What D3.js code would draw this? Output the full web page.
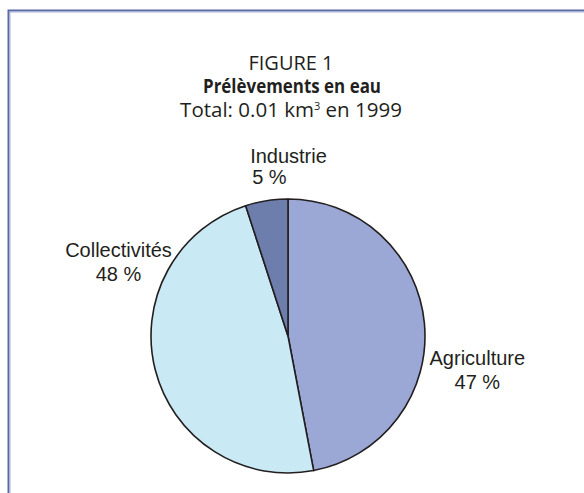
<!DOCTYPE html>
<html>
<head>
<meta charset="utf-8">
<script src="https://cdn.jsdelivr.net/npm/d3@7"></script>
<style>
  body { margin: 0; background: #fff; }
  svg { display: block; }
</style>
</head>
<body>
<div id="chart"></div>
<script>
// data
const categories = ['Agriculture', 'Collectivités', 'Industrie']
const shares = [47, 48, 5]
const titleLines = ['FIGURE 1', 'Prélèvements en eau', 'Total: 0.01 km', '3', ' en 1999']

const width = 584
const height = 493
const cx = 288
const cy = 336
const radius = 137

const colors = d3.scaleOrdinal()
  .domain(categories)
  .range(['#9ba7d5', '#c9e9f4', '#6d7dac'])

// nudges from the arc centroid to where the label sits (first line baseline)
const labelNudge = {
  Agriculture: { dx: 12, dy: 46, anchor: 'middle' },
  Collectivités: { dx: 3, dy: -123, anchor: 'middle' },
  Industrie: { dx: -10, dy: 3, anchor: 'start' }
}

const svg = d3.select('#chart').append('svg')
  .attr('width', width)
  .attr('height', height)

// frame (top and left rules only)
svg.append('path')
  .attr('d', `M8.5,${height} V10.5 H${width}`)
  .attr('fill', 'none')
  .attr('stroke', '#5a6aa6')
  .attr('stroke-width', 2)
svg.append('path')
  .attr('d', `M10,${height} V12 H${width}`)
  .attr('fill', 'none')
  .attr('stroke', '#aab3d6')
  .attr('stroke-width', 1)

// titles
const title = svg.append('g')
  .attr('font-family', '"Open Sans", sans-serif')
  .attr('fill', '#231f20')
  .attr('text-anchor', 'middle')
title.append('text')
  .attr('x', 291).attr('y', 70)
  .attr('font-size', 20)
  .text(titleLines[0])
title.append('text')
  .attr('x', 292).attr('y', 93)
  .attr('font-size', 19.5)
  .attr('font-weight', 'bold')
  .attr('textLength', 178)
  .attr('lengthAdjust', 'spacingAndGlyphs')
  .text(titleLines[1])
const total = title.append('text')
  .attr('x', 291).attr('y', 117)
  .attr('font-size', 20.5)
total.append('tspan').text(titleLines[2])
total.append('tspan')
  .attr('font-size', 11)
  .attr('dy', -7)
  .text(titleLines[3])
total.append('tspan')
  .attr('dy', 7)
  .text(titleLines[4])

// pie
const pie = d3.pie().sort(null).value(d => d.value)
const arcs = pie(categories.map((c, i) => ({ name: c, value: shares[i] })))
const arc = d3.arc().innerRadius(0).outerRadius(radius)
const labelArc = d3.arc().innerRadius(radius * 1.3).outerRadius(radius * 1.3)

const g = svg.append('g').attr('transform', `translate(${cx},${cy})`)

g.selectAll('path.slice')
  .data(arcs)
  .enter().append('path')
  .attr('class', 'slice')
  .attr('d', arc)
  .attr('fill', d => colors(d.data.name))
  .attr('stroke', '#231f20')
  .attr('stroke-width', 1.6)
  .attr('stroke-linejoin', 'round')

const labels = g.selectAll('text.label')
  .data(arcs)
  .enter().append('text')
  .attr('class', 'label')
  .attr('font-family', '"Liberation Sans", Arial, sans-serif')
  .attr('font-size', 20)
  .attr('fill', '#231f20')
  .attr('text-anchor', d => labelNudge[d.data.name].anchor)
  .attr('transform', d => {
    const [x, y] = labelArc.centroid(d)
    const n = labelNudge[d.data.name]
    return `translate(${x + n.dx},${y + n.dy})`
  })

labels.append('tspan')
  .attr('x', 0)
  .attr('y', 0)
  .text(d => d.data.name)
labels.append('tspan')
  .attr('x', d => labelNudge[d.data.name].anchor === 'start' ? 2 : 0)
  .attr('dy', d => d.data.name === 'Industrie' ? 21 : 24)
  .text(d => d.data.value + ' %')
</script>
</body>
</html>
